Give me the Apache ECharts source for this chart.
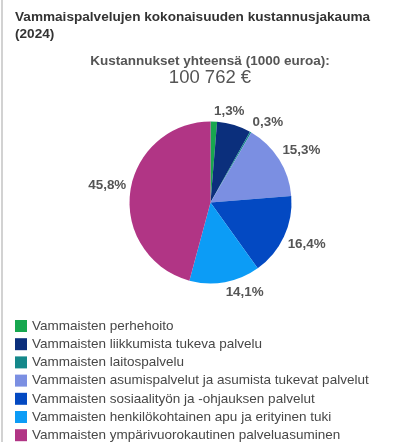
<!DOCTYPE html>
<html>
<head>
<meta charset="utf-8">
<script src="https://cdn.jsdelivr.net/npm/echarts@6/dist/echarts.min.js"></script>
<style>
  html, body { margin: 0; padding: 0; background: #fff; }
  body { position: relative; width: 400px; height: 442px; overflow: hidden; }
  #chart { width: 400px; height: 442px; }
  #edge { position: absolute; left: 1px; top: 0; width: 2px; height: 442px; background: #d2d2d2; }
</style>
</head>
<body>
<div id="chart"></div>
<div id="edge"></div>
<script>
// data
const categories = [
  'Vammaisten perhehoito',
  'Vammaisten liikkumista tukeva palvelu',
  'Vammaisten laitospalvelu',
  'Vammaisten asumispalvelut ja asumista tukevat palvelut',
  'Vammaisten sosiaalityön ja -ohjauksen palvelut',
  'Vammaisten henkilökohtainen apu ja erityinen tuki',
  'Vammaisten ympärivuorokautinen palveluasuminen'
]
const shares = [1.3, 6.8, 0.3, 15.3, 16.4, 14.1, 45.8]
const showLabel = [true, false, true, true, true, true, true]
const colors = ['#17a74f', '#0b2f7c', '#14888a', '#7b8fe2', '#0349c2', '#0c9cf6', '#b13585']

const cx = 210.5, cy = 202.5, r = 81, gap = 4
const total = shares.reduce((a, b) => a + b, 0)

const chart = echarts.init(document.getElementById('chart'))

// google-style labels: nearest corner of the label sits just outside the rim
function placeLabel(p) {
  const i = p.dataIndex
  const before = shares.slice(0, i).reduce((a, b) => a + b, 0)
  const a = (before + shares[i] / 2) / total * Math.PI * 2
  const s = Math.sin(a), c = Math.cos(a)
  return {
    x: cx + (r + gap) * s,
    y: cy - (r + gap) * c,
    align: s >= 0 ? 'left' : 'right',
    verticalAlign: c >= 0 ? 'bottom' : 'top'
  }
}

const option = {
  animation: false,
  textStyle: { fontFamily: 'Liberation Sans, Arial, sans-serif' },
  title: [
    {
      text: 'Vammaispalvelujen kokonaisuuden kustannusjakauma\n(2024)',
      left: 15, top: 8, padding: 0,
      textStyle: { fontSize: 13.6, fontWeight: 'bold', color: '#333', lineHeight: 17.5 }
    },
    {
      text: 'Kustannukset yhteensä (1000 euroa):',
      left: 210, top: 54, padding: 0, textAlign: 'center',
      textStyle: { fontSize: 13.5, fontWeight: 'bold', color: '#555' }
    },
    {
      text: '100 762 €',
      left: 210, top: 68, padding: 0, textAlign: 'center',
      textStyle: { fontSize: 18.5, fontWeight: 'normal', color: '#555' }
    }
  ],
  color: colors,
  legend: {
    orient: 'vertical',
    left: 15, top: 319, height: 300, padding: 0,
    itemWidth: 12, itemHeight: 12, itemGap: 4.2,
    icon: 'rect',
    textStyle: { fontSize: 13.5, lineHeight: 14, color: '#474747' },
    data: categories
  },
  series: [{
    type: 'pie',
    center: [cx, cy],
    radius: r,
    startAngle: 90,
    clockwise: true,
    data: categories.map((name, i) => ({
      name, value: shares[i],
      label: { show: showLabel[i] }
    })),
    label: {
      position: 'outside',
      formatter: p => p.value.toFixed(1).replace('.', ',') + '%',
      fontSize: 13.4, fontWeight: 'bold', color: '#555'
    },
    labelLine: { show: false },
    labelLayout: placeLabel,
    itemStyle: { borderWidth: 0 }
  }]
}

chart.setOption(option)
</script>
</body>
</html>
